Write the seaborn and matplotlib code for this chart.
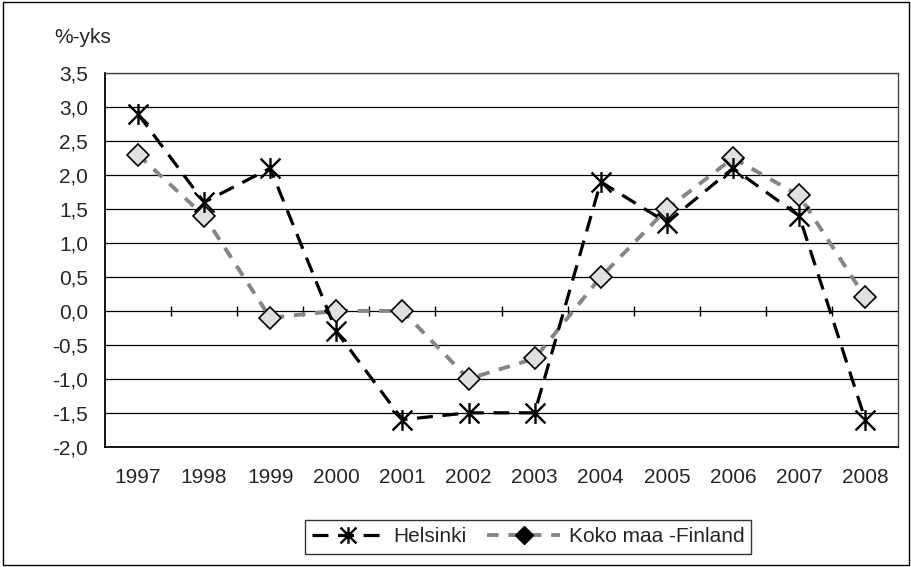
import numpy as np
import pandas as pd
import matplotlib
matplotlib.use("Agg")
import matplotlib.pyplot as plt
from matplotlib.path import Path
from matplotlib.lines import Line2D
from matplotlib.patches import Rectangle
import seaborn as sns

# -------------------------------------------------
# Data
# -------------------------------------------------
years = [1997, 1998, 1999, 2000, 2001, 2002, 2003, 2004, 2005, 2006, 2007, 2008]
helsinki = [2.9, 1.6, 2.1, -0.3, -1.6, -1.5, -1.5, 1.9, 1.3, 2.1, 1.4, -1.6]
koko_maa = [2.3, 1.4, -0.1, 0.0, 0.0, -1.0, -0.7, 0.5, 1.5, 2.25, 1.7, 0.2]
y_ticks = [-2.0, -1.5, -1.0, -0.5, 0.0, 0.5, 1.0, 1.5, 2.0, 2.5, 3.0, 3.5]
series_names = ["Helsinki", "Koko maa -Finland"]

df = pd.DataFrame({"Vuosi": years, "Helsinki": helsinki, "Koko": koko_maa})

# -------------------------------------------------
# Style
# -------------------------------------------------
sns.set_style("white")
plt.rcParams["font.family"] = ["Liberation Sans", "DejaVu Sans"]
plt.rcParams["font.size"] = 15

# Excel-style star marker: an X with a vertical bar
star = Path(
    [(-1, -1), (1, 1), (-1, 1), (1, -1), (0, -1.05), (0, 1.05)],
    [Path.MOVETO, Path.LINETO, Path.MOVETO, Path.LINETO, Path.MOVETO, Path.LINETO],
)

fig, ax = plt.subplots(figsize=(9.12, 5.67), dpi=100)
fig.subplots_adjust(left=0.115, right=0.985, top=0.871, bottom=0.212)

ymin, ymax = -2.0, 3.5
ax.set_ylim(ymin, ymax)
ax.set_xlim(years[0] - 0.5, years[-1] + 0.5)

# gridlines
for v in y_ticks[1:]:
    ax.axhline(v, color="black", lw=0.9, zorder=1)

# -------------------------------------------------
# Lines
# -------------------------------------------------
sns.lineplot(data=df, x="Vuosi", y="Koko", ax=ax, color="#858585", lw=2.8,
             linestyle=(0, (3, 2.5)), marker="D", markersize=11,
             markerfacecolor="#e0e0e0", markeredgecolor="black",
             markeredgewidth=1.2, zorder=3)
sns.lineplot(data=df, x="Vuosi", y="Helsinki", ax=ax, color="black", lw=2.3,
             linestyle=(0, (5, 3)), marker=star, markersize=15,
             markerfacecolor="none", markeredgecolor="black",
             markeredgewidth=1.7, zorder=4)

# -------------------------------------------------
# Axes
# -------------------------------------------------
ax.set_xticks(years)
ax.set_xticklabels([str(y) for y in years])
ax.set_yticks(y_ticks)
ax.set_yticklabels([f"{v:.1f}".replace(".", ",") for v in y_ticks])
ax.tick_params(axis="x", length=0, pad=15, labelsize=15)
ax.tick_params(axis="y", length=5, width=1, direction="out", color="black",
               pad=7, labelsize=15)
ax.set_xlabel("")
ax.set_ylabel("")

for side in ["left", "bottom"]:
    ax.spines[side].set_color("black")
    ax.spines[side].set_linewidth(1.3)
for side in ["top", "right"]:
    ax.spines[side].set_color("#444444")
    ax.spines[side].set_linewidth(1.0)

# category boundary ticks on the zero line
sec = ax.secondary_xaxis((0 - ymin) / (ymax - ymin))
sec.set_xticks([y + 0.5 for y in years[:-1]])
sec.tick_params(direction="inout", length=7, width=1, color="black",
                labeltop=False, labelbottom=False)
sec.spines["top"].set_visible(False)
sec.spines["bottom"].set_visible(False)

fig.text(0.060, 0.924, "%-yks", fontsize=15, ha="left", va="baseline")

# -------------------------------------------------
# Legend
# -------------------------------------------------
handles = [
    Line2D([], [], color="black", lw=2.3, linestyle=(0, (5, 3)), marker=star,
           markersize=12, markeredgecolor="black", markeredgewidth=1.7),
    Line2D([], [], color="#858585", lw=2.8, linestyle=(0, (3, 2.5)), marker="D",
           markersize=9, markerfacecolor="black", markeredgecolor="black"),
]
leg = fig.legend(handles, series_names, loc="center", bbox_to_anchor=(0.579, 0.053),
                 ncol=2, frameon=True, fancybox=False, edgecolor="black",
                 handlelength=3.5, columnspacing=1.0, handletextpad=0.4,
                 borderpad=0.35, borderaxespad=0, fontsize=15)
leg.get_frame().set_linewidth(1.0)

# outer chart border
fig.patches.append(Rectangle((0.003, 0.003), 0.994, 0.994, transform=fig.transFigure,
                             fill=False, edgecolor="black", lw=1.0))

plt.savefig("out.png", dpi=100)
